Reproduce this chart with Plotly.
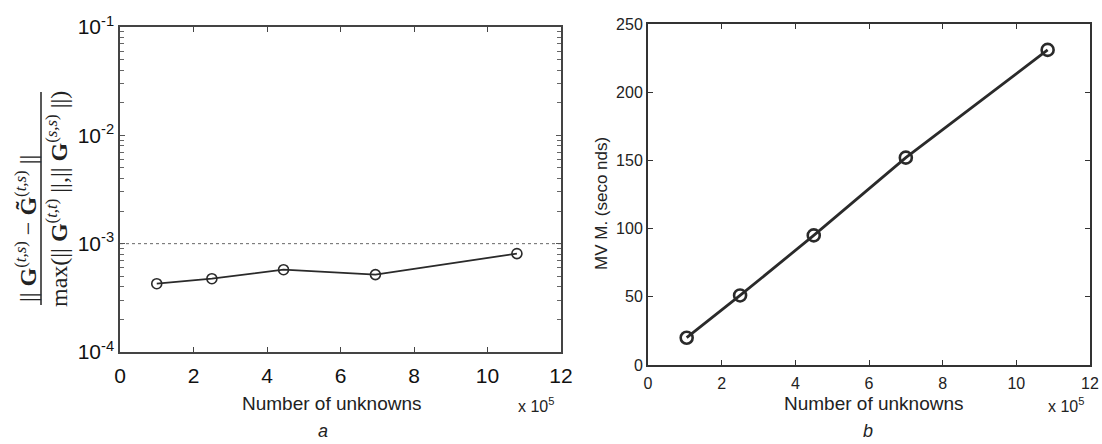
import plotly.graph_objects as go

W, H = 1102, 444

# ---- data ----
unknowns_a = [1.0, 2.5, 4.45, 6.95, 10.8]          # x 10^5
rel_error = [4.27e-4, 4.75e-4, 5.75e-4, 5.18e-4, 8.1e-4]
threshold = 1e-3

unknowns_b = [1.05, 2.5, 4.5, 7.0, 10.85]          # x 10^5
mvm_seconds = [20, 51, 95, 152, 231]

x_ticks = [0, 2, 4, 6, 8, 10, 12]
x_ticklabels = ["0", "2", "4", "6", "8", "10", "12"]
y_decades_a = [1e-4, 1e-3, 1e-2, 1e-1]
y_ticklabels_a = ["10<sup>-4</sup>", "10<sup>-3</sup>", "10<sup>-2</sup>", "10<sup>-1</sup>"]
y_minor_mult = [2, 3, 4, 5, 6, 7, 8, 9]
y_ticks_b = [0, 50, 100, 150, 200, 250]

y_minor_a = [d * m for d in y_decades_a[:-1] for m in y_minor_mult]

def px(x):
    return x / W

def py(y):
    return 1 - y / H

INK = "#2a2a2a"
AX = "#444444"

fig = go.Figure()

# panel a
fig.add_trace(go.Scatter(
    x=[0, 12], y=[threshold, threshold], mode="lines",
    line=dict(color="#666666", width=1, dash="dot"),
    xaxis="x", yaxis="y", showlegend=False, hoverinfo="skip"))
fig.add_trace(go.Scatter(
    x=unknowns_a, y=rel_error, mode="lines+markers",
    line=dict(color=INK, width=1.8),
    marker=dict(symbol="circle-open", size=10, color=INK, line=dict(width=1.6, color=INK)),
    xaxis="x", yaxis="y", showlegend=False))

# panel b
fig.add_trace(go.Scatter(
    x=unknowns_b, y=mvm_seconds, mode="lines+markers",
    line=dict(color=INK, width=2.8),
    marker=dict(symbol="circle-open", size=12, color=INK, line=dict(width=2.6, color=INK)),
    xaxis="x2", yaxis="y2", showlegend=False))

tick_font_a = dict(family="Liberation Sans, Arial", size=21, color="#111")
tick_font_b = dict(family="Liberation Sans, Arial", size=16, color="#222")

fig.update_layout(
    width=W, height=H,
    margin=dict(l=0, r=0, t=0, b=0, pad=0, autoexpand=False),
    paper_bgcolor="white", plot_bgcolor="white",
    xaxis=dict(domain=[px(120), px(561)], range=[0, 12], tickvals=x_ticks, ticktext=x_ticklabels,
               showline=True, linecolor=AX, linewidth=1.5, mirror="ticks",
               ticks="inside", ticklen=5, tickcolor=AX, showgrid=False, zeroline=False,
               tickfont=tick_font_a, ticklabelstandoff=4, automargin=False, anchor="y"),
    yaxis=dict(domain=[py(352), py(27)], type="log", range=[-4, -1],
               tickvals=y_decades_a, ticktext=y_ticklabels_a,
               showline=True, linecolor=AX, linewidth=1.5, mirror="ticks",
               ticks="inside", ticklen=5, tickcolor="#555", showgrid=False, zeroline=False,
               minor=dict(tickvals=y_minor_a, ticks="inside", ticklen=4, tickcolor="#666",
                          tickwidth=1, showgrid=False),
               tickfont=tick_font_a, automargin=False, anchor="x"),
    xaxis2=dict(domain=[px(648), px(1090)], range=[0, 12], tickvals=x_ticks, ticktext=x_ticklabels,
                showline=True, linecolor="#333", linewidth=2, mirror="ticks",
                ticks="inside", ticklen=5, tickcolor="#333", showgrid=False, zeroline=False,
                tickfont=tick_font_b, ticklabelstandoff=3, automargin=False, anchor="y2"),
    yaxis2=dict(domain=[py(365), py(24)], range=[0, 250], tickvals=y_ticks_b,
                showline=True, linecolor="#333", linewidth=2, mirror="ticks",
                ticks="inside", ticklen=5, tickcolor="#333", showgrid=False, zeroline=False,
                tickfont=tick_font_b, automargin=False, anchor="x2"),
)

ann_font = dict(family="Liberation Sans, Arial", size=19, color="#222")
serif = dict(family="Liberation Serif, Times New Roman", size=24, color="#222")
label_font = dict(family="Liberation Sans, Arial", size=18, color="#222")

annotations = [
    dict(x=px(332), y=py(403), text="Number of unknowns", font=ann_font),
    dict(x=px(536), y=py(405), text="x 10<sup>5</sup>", font=dict(family="Liberation Sans, Arial", size=16, color="#222")),
    dict(x=px(323), y=py(431), text="<i>a</i>", font=label_font),
    dict(x=px(874), y=py(403), text="Number of unknowns", font=ann_font),
    dict(x=px(1066), y=py(405), text="x 10<sup>5</sup>", font=dict(family="Liberation Sans, Arial", size=16, color="#222")),
    dict(x=px(868), y=py(431), text="<i>b</i>", font=label_font),
    dict(x=px(601), y=py(204), text="MV M. (seco nds)", textangle=-90,
         font=dict(family="Liberation Sans, Arial", size=17, color="#222")),
    dict(x=px(26), y=py(229),
         text="|| <b>G</b><sup>(<i>t,s</i>)</sup> − <b>G̃</b><sup>(<i>t,s</i>)</sup> ||",
         textangle=-90, font=serif),
    dict(x=px(57), y=py(199),
         text="max(|| <b>G</b><sup>(<i>t,t</i>)</sup> ||,|| <b>G</b><sup>(<i>s,s</i>)</sup> ||)",
         textangle=-90, font=serif),
]
for a in annotations:
    a.update(xref="paper", yref="paper", showarrow=False, xanchor="center", yanchor="middle")
fig.update_layout(annotations=annotations)

fig.add_shape(type="line", xref="paper", yref="paper",
              x0=px(41), x1=px(41), y0=py(305), y1=py(92),
              line=dict(color="#222", width=1.5))

fig.write_html("out.html")
